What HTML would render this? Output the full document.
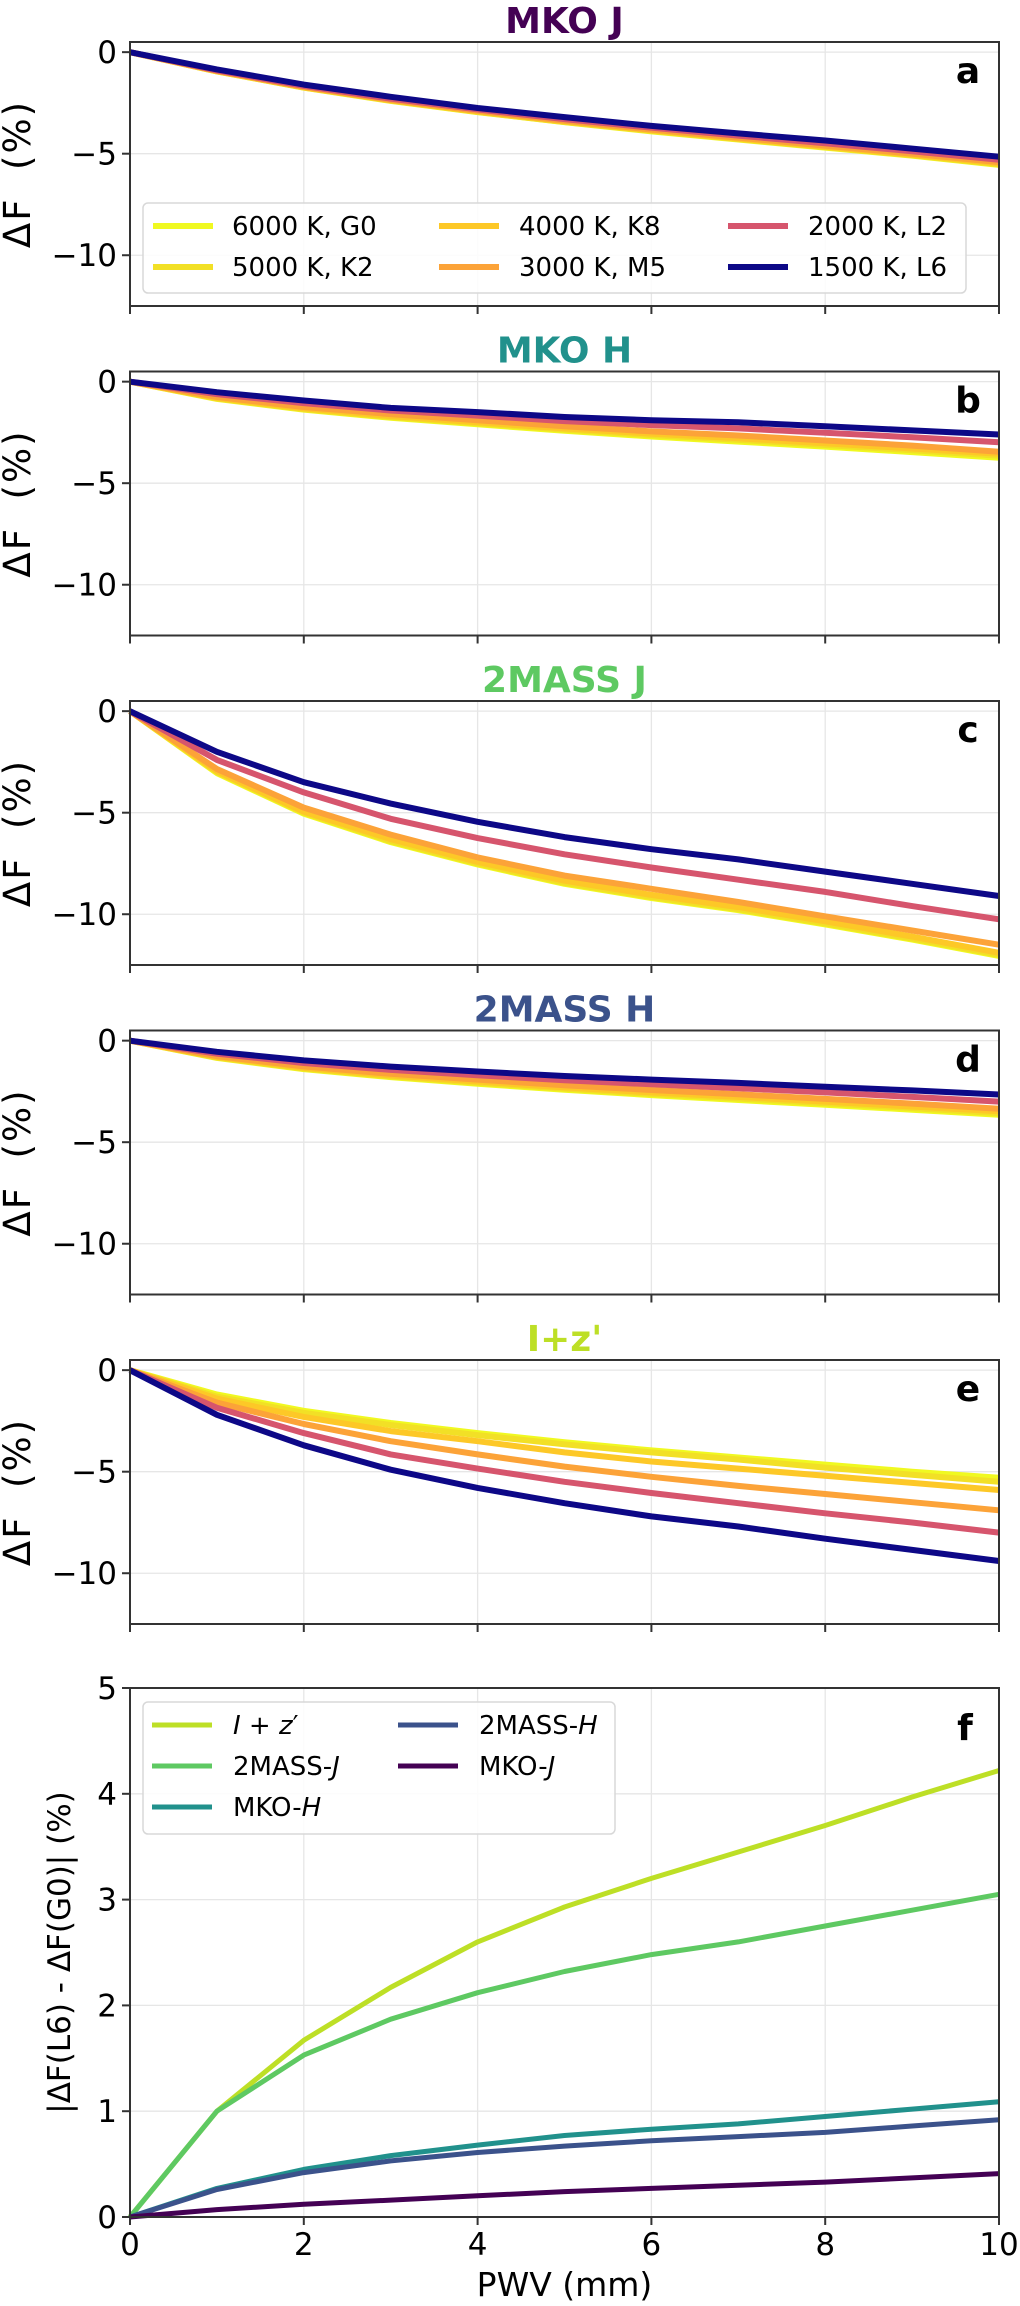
<!DOCTYPE html>
<html><head><meta charset="utf-8">
<style>
html,body{margin:0;padding:0;background:#fff;}
svg{display:block;font-family:"DejaVu Sans","Liberation Sans",sans-serif;}
</style></head>
<body>
<svg id="fig" width="1020" height="2306" viewBox="0 0 1020 2306" xmlns="http://www.w3.org/2000/svg"></svg>
<script>
const pwv = [0,1,2,3,4,5,6,7,8,9,10];
const starLabels = ["6000 K, G0","5000 K, K2","4000 K, K8","3000 K, M5","2000 K, L2","1500 K, L6"];
const starColors = ["#f0f921","#f2e026","#fdc827","#fca338","#d6556d","#0d0887"];
const panelTitles = ["MKO J","MKO H","2MASS J","2MASS H","I+z'"];
const panelTitleColors = ["#440154","#21918c","#5ec962","#3b528b","#bddf26"];
const panelLetters = ["a","b","c","d","e"];
const yTicksTop = [0,-5,-10];
const xTicks = [0,2,4,6,8,10];
const fTicks = [0,1,2,3,4,5];
// panel a: MKO J
const mkoJ = [
 [0,-0.95,-1.75,-2.4,-2.95,-3.45,-3.9,-4.3,-4.7,-5.1,-5.55],
 [0,-0.95,-1.74,-2.39,-2.94,-3.44,-3.88,-4.28,-4.68,-5.08,-5.52],
 [0,-0.94,-1.73,-2.37,-2.92,-3.41,-3.85,-4.25,-4.65,-5.05,-5.48],
 [0,-0.93,-1.71,-2.35,-2.89,-3.38,-3.81,-4.21,-4.6,-5.0,-5.42],
 [0,-0.9,-1.66,-2.29,-2.82,-3.3,-3.72,-4.11,-4.49,-4.88,-5.3],
 [0,-0.85,-1.6,-2.2,-2.75,-3.2,-3.63,-4.0,-4.35,-4.75,-5.15]];
// panel b: MKO H
const mkoH = [
 [0,-0.85,-1.38,-1.78,-2.1,-2.42,-2.7,-2.95,-3.2,-3.47,-3.75],
 [0,-0.83,-1.35,-1.74,-2.05,-2.36,-2.63,-2.87,-3.12,-3.38,-3.65],
 [0,-0.8,-1.31,-1.69,-2.0,-2.3,-2.56,-2.79,-3.03,-3.29,-3.55],
 [0,-0.75,-1.25,-1.6,-1.9,-2.2,-2.45,-2.65,-2.9,-3.15,-3.45],
 [0,-0.62,-1.06,-1.42,-1.67,-1.94,-2.14,-2.3,-2.52,-2.74,-2.98],
 [0,-0.52,-0.93,-1.29,-1.5,-1.74,-1.9,-2.0,-2.2,-2.4,-2.6]];
// panel c: 2MASS J
const tmassJ = [
 [0,-3.05,-5.05,-6.45,-7.55,-8.5,-9.2,-9.8,-10.5,-11.25,-12.05],
 [0,-3.0,-5.0,-6.4,-7.5,-8.45,-9.15,-9.75,-10.45,-11.2,-12.0],
 [0,-2.95,-4.95,-6.3,-7.42,-8.35,-9.05,-9.65,-10.35,-11.1,-11.9],
 [0,-2.85,-4.75,-6.08,-7.2,-8.1,-8.75,-9.4,-10.1,-10.8,-11.5],
 [0,-2.4,-4.0,-5.3,-6.25,-7.05,-7.7,-8.3,-8.9,-9.6,-10.25],
 [0,-2.0,-3.5,-4.55,-5.45,-6.2,-6.8,-7.3,-7.9,-8.5,-9.1]];
// panel d: 2MASS H
const tmassH = [
 [0,-0.85,-1.4,-1.8,-2.12,-2.42,-2.68,-2.92,-3.16,-3.4,-3.65],
 [0,-0.83,-1.37,-1.76,-2.07,-2.36,-2.62,-2.85,-3.08,-3.32,-3.57],
 [0,-0.8,-1.33,-1.71,-2.01,-2.3,-2.55,-2.77,-3.0,-3.24,-3.48],
 [0,-0.76,-1.27,-1.63,-1.92,-2.2,-2.43,-2.64,-2.87,-3.1,-3.35],
 [0,-0.64,-1.1,-1.44,-1.7,-1.95,-2.15,-2.34,-2.55,-2.77,-3.0],
 [0,-0.55,-0.97,-1.28,-1.52,-1.74,-1.92,-2.08,-2.27,-2.45,-2.65]];
// panel e: I+z'
const iz = [
 [0,-1.2,-2.0,-2.6,-3.1,-3.55,-3.95,-4.3,-4.65,-5.0,-5.3],
 [0,-1.3,-2.1,-2.7,-3.2,-3.65,-4.05,-4.4,-4.8,-5.15,-5.5],
 [0,-1.4,-2.3,-3.0,-3.5,-4.05,-4.5,-4.85,-5.2,-5.55,-5.9],
 [0,-1.6,-2.65,-3.5,-4.15,-4.75,-5.25,-5.7,-6.1,-6.5,-6.9],
 [0,-1.85,-3.1,-4.15,-4.85,-5.5,-6.05,-6.55,-7.05,-7.5,-8.0],
 [0,-2.2,-3.7,-4.9,-5.8,-6.55,-7.2,-7.7,-8.3,-8.85,-9.4]];
const panelData = [mkoJ, mkoH, tmassJ, tmassH, iz];
// panel f
const diffLabels = ["I+z'","2MASS-J","MKO-H","2MASS-H","MKO-J"];
const diffColors = ["#bddf26","#5ec962","#21918c","#3b528b","#440154"];
const diffIz = [0,1.0,1.67,2.17,2.6,2.93,3.2,3.45,3.7,3.97,4.22];
const diff2J = [0,1.0,1.53,1.87,2.12,2.32,2.48,2.6,2.75,2.9,3.05];
const diffMH = [0,0.27,0.45,0.58,0.68,0.77,0.83,0.88,0.95,1.02,1.09];
const diff2H = [0,0.26,0.42,0.53,0.61,0.67,0.72,0.76,0.8,0.86,0.92];
const diffMJ = [0,0.07,0.12,0.16,0.2,0.24,0.27,0.3,0.33,0.37,0.41];
const diffSeries = [diffIz, diff2J, diffMH, diff2H, diffMJ];

const NS="http://www.w3.org/2000/svg";
const svg=document.getElementById('fig');
function mk(tag,attrs,parent,text){const e=document.createElementNS(NS,tag);for(const k in attrs)e.setAttribute(k,attrs[k]);if(text!==undefined)e.textContent=text;(parent||svg).appendChild(e);return e;}
const X0=130,X1=999;
const xs=v=>X0+(v-0)/(10-0)*(X1-X0);
const panelTops=[42,371.5,701,1030.5,1360];
const PH=264;

panelData.forEach((series,p)=>{
  const top=panelTops[p],bot=top+PH;
  const ys=v=>top+(0.5-v)/13*PH;
  const g=mk('g',{});
  
  
  xTicks.forEach(t=>{const l=mk('line',{x1:xs(t),x2:xs(t),y1:top,y2:bot,stroke:'#e6e6e6','stroke-width':1.3},g);});
  yTicksTop.forEach(t=>{const l=mk('line',{x1:X0,x2:X1,y1:ys(t),y2:ys(t),stroke:'#e6e6e6','stroke-width':1.3},g);});
  series.forEach((vals,i)=>{
    const d=vals.map((v,j)=>(j?'L':'M')+xs(pwv[j]).toFixed(1)+','+ys(v).toFixed(1)).join(' ');
    const pth=mk('path',{d:d,fill:'none',stroke:starColors[i],'stroke-width':6,'stroke-linejoin':'round'},g);
    
    
  });
  const fr=mk('rect',{x:X0,y:top,width:X1-X0,height:PH,fill:'none',stroke:'#333','stroke-width':2},g);
  
  
  xTicks.forEach(t=>{mk('line',{x1:xs(t),x2:xs(t),y1:bot,y2:bot+8,stroke:'#333','stroke-width':2},g);});
  yTicksTop.forEach(t=>{
    mk('line',{x1:X0-8,x2:X0,y1:ys(t),y2:ys(t),stroke:'#333','stroke-width':2},g);
    const tl=mk('text',{x:X0-13,y:ys(t)+11,'text-anchor':'end','font-size':31,fill:'#000'},g,t===0?'0':'\u2212'+Math.abs(t));
    
    
  });
  const yl=mk('text',{transform:`translate(30,${top+PH/2}) rotate(-90)`,'text-anchor':'middle','font-size':37,'letter-spacing':2,fill:'#000'},g,'\u0394F\u00a0 (%)');
  
  
  const tt=mk('text',{x:(X0+X1)/2,y:top-9,'text-anchor':'middle','font-size':36,'font-weight':'bold',fill:panelTitleColors[p]},g,panelTitles[p]);
  
  
  const lt=mk('text',{x:968,y:top+41,'text-anchor':'middle','font-size':36,'font-weight':'bold',fill:'#000'},g,panelLetters[p]);
  
  
});

// legend panel a
(function(){
  const g=mk('g',{});
  
  
  mk('rect',{x:143,y:203,width:823,height:90,rx:5,fill:'#fff','fill-opacity':0.85,stroke:'#d8d8d8','stroke-width':1.5},g);
  const hx=[153,439,728],tx=[232,519,808],ry=[226,267];
  starLabels.forEach((lab,i)=>{
    const c=Math.floor(i/2),r=i%2;
    mk('line',{x1:hx[c],x2:hx[c]+60,y1:ry[r],y2:ry[r],stroke:starColors[i],'stroke-width':6},g);
    const t=mk('text',{x:tx[c],y:ry[r]+9,'font-size':26,fill:'#000'},g,lab);
    
    
  });
})();

// panel f
(function(){
  const top=1688,bot=2217;
  const ys=v=>bot-(v/5)*(bot-top);
  const g=mk('g',{});
  
  
  xTicks.forEach(t=>{mk('line',{x1:xs(t),x2:xs(t),y1:top,y2:bot,stroke:'#e6e6e6','stroke-width':1.3},g);});
  fTicks.forEach(t=>{mk('line',{x1:X0,x2:X1,y1:ys(t),y2:ys(t),stroke:'#e6e6e6','stroke-width':1.3},g);});
  diffSeries.forEach((vals,i)=>{
    const d=vals.map((v,j)=>(j?'L':'M')+xs(pwv[j]).toFixed(1)+','+ys(v).toFixed(1)).join(' ');
    const pth=mk('path',{d:d,fill:'none',stroke:diffColors[i],'stroke-width':5,'stroke-linejoin':'round'},g);
    
    
  });
  mk('rect',{x:X0,y:top,width:X1-X0,height:bot-top,fill:'none',stroke:'#333','stroke-width':2},g);
  xTicks.forEach(t=>{
    mk('line',{x1:xs(t),x2:xs(t),y1:bot,y2:bot+8,stroke:'#333','stroke-width':2},g);
    const tl=mk('text',{x:xs(t),y:2255,'text-anchor':'middle','font-size':31,fill:'#000'},g,String(t));
    
    
  });
  fTicks.forEach(t=>{
    mk('line',{x1:X0-8,x2:X0,y1:ys(t),y2:ys(t),stroke:'#333','stroke-width':2},g);
    const tl=mk('text',{x:X0-13,y:ys(t)+11,'text-anchor':'end','font-size':31,fill:'#000'},g,String(t));
    
    
  });
  const xl=mk('text',{x:(X0+X1)/2,y:2296,'text-anchor':'middle','font-size':33,fill:'#000'},g,'PWV (mm)');
  
  
  const yl=mk('text',{transform:`translate(70,${(top+bot)/2}) rotate(-90)`,'text-anchor':'middle','font-size':31,fill:'#000'},g,'|\u0394F(L6) - \u0394F(G0)| (%)');
  
  
  const lt=mk('text',{x:965,y:1740,'text-anchor':'middle','font-size':36,'font-weight':'bold',fill:'#000'},g,'f');
  
  
  // legend
  const lg=mk('g',{},g);
  
  
  mk('rect',{x:143,y:1702,width:472,height:132,rx:5,fill:'#fff','fill-opacity':0.85,stroke:'#d8d8d8','stroke-width':1.5},lg);
  const hx=[152,398],tx=[233,479],ry=[1725,1766,1807];
  const labelsHtml=[
    ['<tspan font-style="italic">I</tspan> + <tspan font-style="italic">z</tspan>\u2032'],
    ['2MASS-<tspan font-style="italic">J</tspan>'],
    ['MKO-<tspan font-style="italic">H</tspan>'],
    ['2MASS-<tspan font-style="italic">H</tspan>'],
    ['MKO-<tspan font-style="italic">J</tspan>']];
  diffLabels.forEach((lab,i)=>{
    const c=i<3?0:1,r=i<3?i:i-3;
    mk('line',{x1:hx[c],x2:hx[c]+60,y1:ry[r],y2:ry[r],stroke:diffColors[i],'stroke-width':5},lg);
    const t=mk('text',{x:tx[c],y:ry[r]+9,'font-size':26,fill:'#000'},lg);
    t.innerHTML=labelsHtml[i][0];
    
    
  });
})();
</script>
</body></html>
